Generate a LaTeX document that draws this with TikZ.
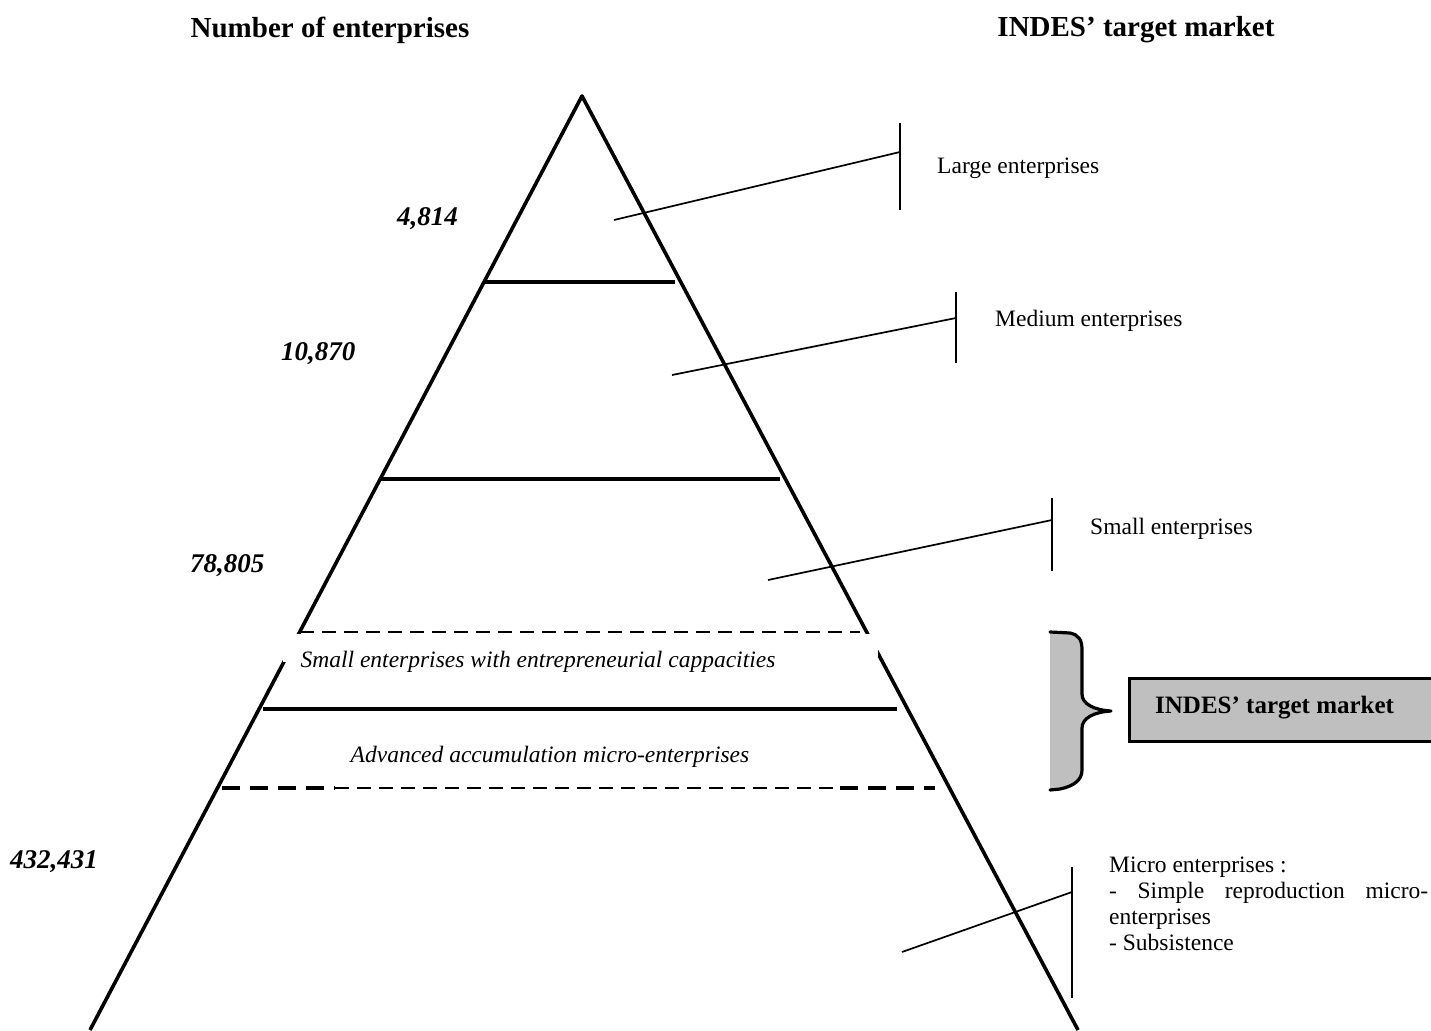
\documentclass[tikz,border=0pt]{standalone}
\usepackage{fontspec}
\setmainfont{Liberation Serif}
\begin{document}
\begin{tikzpicture}[x=1pt,y=-1pt,
  side/.style={line width=3.6pt, line join=round},
  divider/.style={line width=4pt},
  thindash/.style={line width=2.4pt, dash pattern=on 14pt off 8pt},
  thickdash/.style={line width=4.2pt, dash pattern=on 18pt off 10pt},
  leader/.style={line width=1.7pt},
  tickbar/.style={line width=1.7pt},
  hdr/.style={font=\fontsize{29}{34}\selectfont\bfseries, inner sep=0pt},
  num/.style={font=\fontsize{27}{32}\selectfont\bfseries\itshape, inner sep=0pt},
  lbl/.style={font=\fontsize{23.5}{26.3}\selectfont, inner sep=0pt},
  band/.style={font=\fontsize{23.5}{26}\selectfont\itshape, inner sep=0pt},
  bracefill/.style={fill=black!25},
  bracestroke/.style={line width=3.2pt, line join=round, line cap=round},
  targetbox/.style={fill=black!25, draw=black, line width=3.2pt},
  boxtext/.style={font=\fontsize{25}{30}\selectfont\bfseries, inner sep=0pt}]

\useasboundingbox (0,0) rectangle (1431,1030);

% pyramid outline
\coordinate (apex) at (582,96);
\coordinate (baseL) at (90,1030);
\coordinate (baseR) at (1078,1030);
\draw[side] (baseL) -- (apex) -- (baseR);

% white band behind the upper italic label
\fill[white] (283,634) rectangle (878,662);

% tier dividers
\coordinate (d1l) at (485,282);  \coordinate (d1r) at (675,282);
\coordinate (d2l) at (380,479);  \coordinate (d2r) at (780,479);
\coordinate (d3l) at (300,632);  \coordinate (d3r) at (860,632);
\coordinate (d4l) at (263,709);  \coordinate (d4r) at (897,709);
\coordinate (d5l) at (222,788);  \coordinate (d5a) at (335,788);
\coordinate (d5b) at (840,788);  \coordinate (d5r) at (935,788);
\draw[divider] (d1l) -- (d1r);
\draw[divider] (d2l) -- (d2r);
\draw[thindash] (d3l) -- (d3r);
\draw[divider] (d4l) -- (d4r);
\draw[thickdash] (d5l) -- (d5a);
\draw[thindash] (d5a) -- (d5b);
\draw[thickdash] (d5b) -- (d5r);

% headers
\node[hdr] (hleft) at (330,30) {Number of enterprises};
\node[hdr] (hright) at (1136,30) {INDES’ target market};

% counts
\node[num, anchor=west] (n1) at (397,219) {4,814};
\node[num, anchor=west] (n2) at (281,354) {10,870};
\node[num, anchor=west] (n3) at (190,566) {78,805};
\node[num, anchor=west] (n4) at (10,862) {432,431};

% band labels
\node[band] (b1) at (538,662) {Small enterprises with entrepreneurial cappacities};
\node[band] (b2) at (550,757) {Advanced accumulation micro-enterprises};

% callouts
\coordinate (l1a) at (614,220);  \coordinate (l1b) at (900,152);
\coordinate (t1a) at (900,123);  \coordinate (t1b) at (900,210);
\draw[leader] (l1a) -- (l1b);
\draw[tickbar] (t1a) -- (t1b);
\node[lbl, anchor=west] (c1) at (937,168) {Large enterprises};

\coordinate (l2a) at (672,375);  \coordinate (l2b) at (956,318);
\coordinate (t2a) at (956,292);  \coordinate (t2b) at (956,363);
\draw[leader] (l2a) -- (l2b);
\draw[tickbar] (t2a) -- (t2b);
\node[lbl, anchor=west] (c2) at (995,321) {Medium enterprises};

\coordinate (l3a) at (768,580);  \coordinate (l3b) at (1052,520);
\coordinate (t3a) at (1052,498); \coordinate (t3b) at (1052,571);
\draw[leader] (l3a) -- (l3b);
\draw[tickbar] (t3a) -- (t3b);
\node[lbl, anchor=west] (c3) at (1090,529) {Small enterprises};

\coordinate (l4a) at (902,952);  \coordinate (l4b) at (1072,892);
\coordinate (t4a) at (1072,867); \coordinate (t4b) at (1072,998);
\draw[leader] (l4a) -- (l4b);
\draw[tickbar] (t4a) -- (t4b);
\node[lbl, anchor=base west, text width=319pt, align=justify] (c4) at (1109,872)
  {Micro enterprises :\\
   - Simple reproduction micro-\linebreak enterprises\\
   - Subsistence};

% brace grouping the two middle bands
\fill[bracefill] (1050,632) -- (1070,633)
  .. controls (1079,635) and (1082,640) .. (1082,650) -- (1082,694)
  .. controls (1082,704) and (1094,710) .. (1111,711)
  .. controls (1094,712) and (1082,718) .. (1082,728) -- (1082,770)
  .. controls (1082,780) and (1074,786) .. (1060,789) -- (1050,790) -- cycle;
\draw[bracestroke] (1050,632) -- (1070,633)
  .. controls (1079,635) and (1082,640) .. (1082,650) -- (1082,694)
  .. controls (1082,704) and (1094,710) .. (1111,711)
  .. controls (1094,712) and (1082,718) .. (1082,728) -- (1082,770)
  .. controls (1082,780) and (1074,786) .. (1060,789) -- (1050,790);

% target market box
\node[targetbox, minimum width=330pt, minimum height=63pt, anchor=north west] (tmbox) at (1128,677) {};
\node[boxtext, anchor=west] (tmtext) at (1155,708) {INDES’ target market};

\end{tikzpicture}
\end{document}
